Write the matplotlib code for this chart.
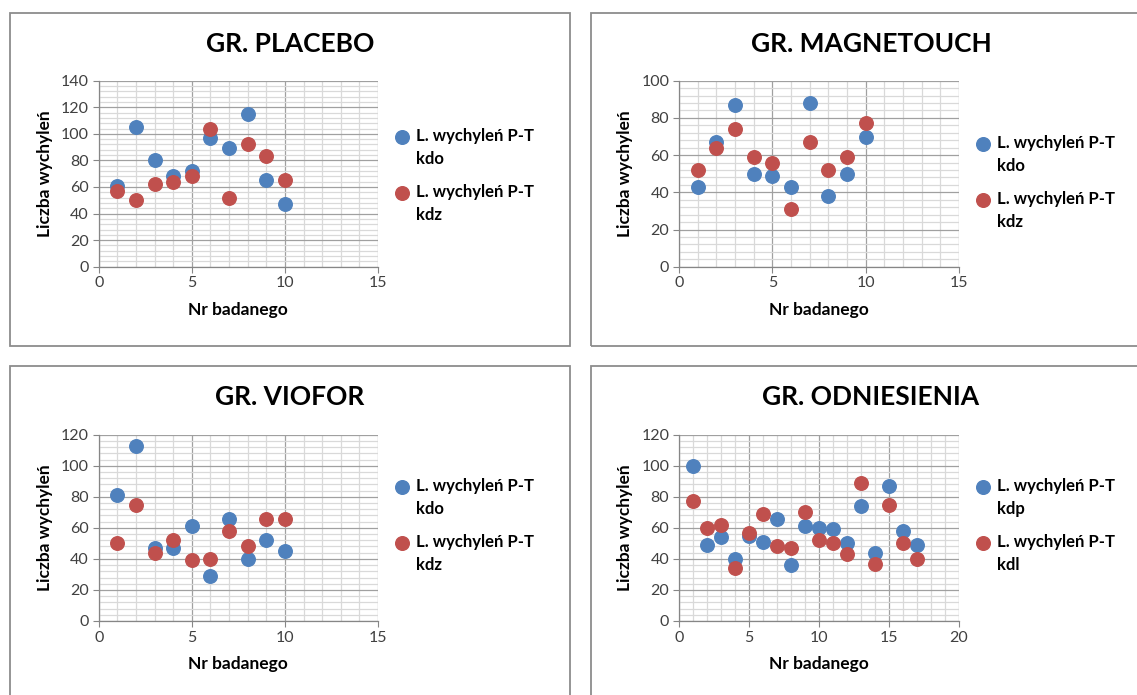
import numpy as np
import matplotlib
matplotlib.use("Agg")
import matplotlib.pyplot as plt
from matplotlib.patches import Rectangle
from matplotlib.lines import Line2D
from matplotlib.ticker import MultipleLocator

plt.rcParams['font.family'] = ['Lato', 'DejaVu Sans']

# --- data ---
nr_10 = list(range(1, 11))
nr_17 = list(range(1, 18))

placebo_kdo = [61, 105, 80, 68, 72, 97, 89, 115, 65, 47]
placebo_kdz = [57, 50, 62, 64, 68, 104, 52, 92, 83, 65]

magnetouch_kdo = [43, 67, 87, 50, 49, 43, 88, 38, 50, 70]
magnetouch_kdz = [52, 64, 74, 59, 56, 31, 67, 52, 59, 77]

viofor_kdo = [81, 113, 47, 47, 61, 29, 66, 40, 52, 45]
viofor_kdz = [50, 75, 44, 52, 39, 40, 58, 48, 66, 66]

odn_kdp = [100, 49, 54, 40, 55, 51, 66, 36, 61, 60, 59, 50, 74, 44, 87, 58, 49]
odn_kdl = [77, 60, 62, 34, 57, 69, 48, 47, 70, 52, 50, 43, 89, 37, 75, 50, 40]

BLUE = "#4F81BD"
RED = "#C0504D"
W, H = 1137, 695

fig = plt.figure(figsize=(W / 100, H / 100), dpi=100)

# panels: (title, x, s1, s2, labels, xmax, ymax, box px, axes px, legend px)
panels = [
    ("GR. PLACEBO", nr_10, placebo_kdo, placebo_kdz, ("kdo", "kdz"), 15, 140,
     (10, 13, 570, 346), (98.7, 80.7, 378, 266.7), (402, 137)),
    ("GR. MAGNETOUCH", nr_10, magnetouch_kdo, magnetouch_kdz, ("kdo", "kdz"), 15, 100,
     (591, 13, 1160, 346), (679, 80.7, 959, 266.7), (983, 144)),
    ("GR. VIOFOR", nr_10, viofor_kdo, viofor_kdz, ("kdo", "kdz"), 15, 120,
     (10, 366, 570, 720), (98.7, 434.7, 378, 621), (402, 487)),
    ("GR. ODNIESIENIA", nr_17, odn_kdp, odn_kdl, ("kdp", "kdl"), 20, 120,
     (591, 366, 1160, 720), (679, 434.7, 959, 621), (983, 487)),
]

def fx(px):
    return px / W

def fy(py):
    return 1 - py / H

for title, x, s1, s2, labs, xmax, ymax, box, apx, lpx in panels:
    bx0, by0, bx1, by1 = box
    fig.patches.append(Rectangle((fx(bx0), fy(by1)), (bx1 - bx0) / W, (by1 - by0) / H,
                                 transform=fig.transFigure, fill=False,
                                 edgecolor="#8c8c8c", linewidth=1.3))
    ax0, ay0, ax1, ay1 = apx
    ax = fig.add_axes([fx(ax0), fy(ay1), (ax1 - ax0) / W, (ay1 - ay0) / H])
    ax.set_xlim(0, xmax)
    ax.set_ylim(0, ymax)
    ax.xaxis.set_major_locator(MultipleLocator(5))
    ax.xaxis.set_minor_locator(MultipleLocator(1))
    ax.yaxis.set_major_locator(MultipleLocator(20))
    ax.yaxis.set_minor_locator(MultipleLocator(4))
    ax.grid(which="minor", color="#d9d9d9", linewidth=0.9)
    ax.grid(which="major", color="#a0a0a0", linewidth=0.9)
    ax.set_axisbelow(True)
    for side in ("top", "right"):
        ax.spines[side].set_visible(False)
    for side in ("left", "bottom"):
        ax.spines[side].set_color("#868686")
        ax.spines[side].set_linewidth(0.9)
    ax.tick_params(which="major", length=4, color="#868686", labelsize=11.5,
                   labelcolor="#404040", pad=3)
    ax.tick_params(which="minor", length=0)
    ax.scatter(x, s1, s=95, color=BLUE, zorder=3, clip_on=False)
    ax.scatter(x, s2, s=95, color=RED, zorder=3, clip_on=False)
    ax.set_xlabel("Nr badanego", fontsize=12.5, fontweight="bold", labelpad=8)
    ax.set_ylabel("Liczba wychyleń", fontsize=12.5, fontweight="bold", labelpad=6)
    fig.text(fx(bx0 + 280), fy(by0 + 31), title, ha="center", va="center",
             fontsize=19, fontweight="bold")

    # legend drawn by hand so the marker sits on the first text line (Excel style)
    mx, my = lpx
    for i, (col, lab) in enumerate([(BLUE, labs[0]), (RED, labs[1])]):
        yy = my + i * 56
        fig.add_artist(Line2D([fx(mx)], [fy(yy)], marker="o", markersize=9.8,
                              color=col, linestyle="none", transform=fig.transFigure))
        fig.text(fx(mx + 14), fy(yy - 9), "L. wychyleń P-T\n" + lab, ha="left", va="top",
                 fontsize=12, fontweight="bold", linespacing=1.55)

fig.savefig("out.png", dpi=100)
